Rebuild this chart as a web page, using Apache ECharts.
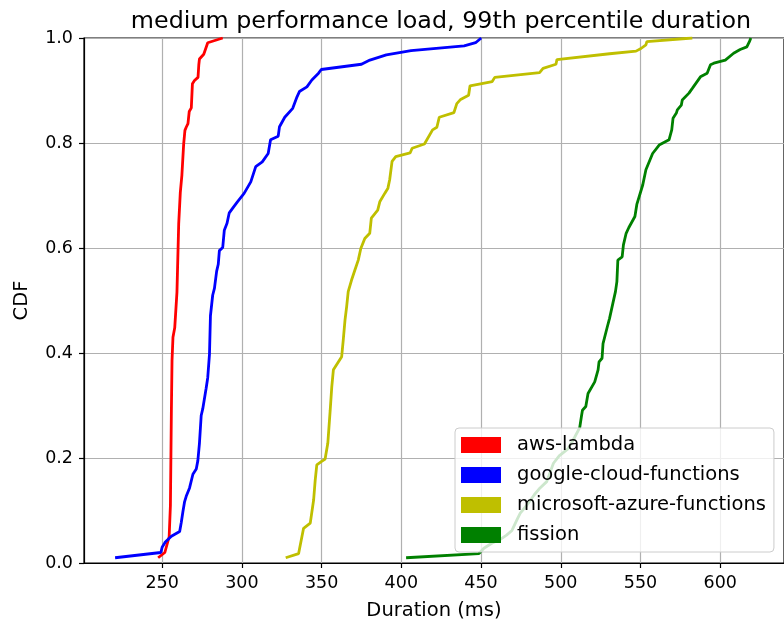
<!DOCTYPE html>
<html>
<head>
<meta charset="utf-8">
<script src="https://cdn.jsdelivr.net/npm/echarts@6/dist/echarts.min.js"></script>
<style>html,body{margin:0;padding:0;background:#fff}#chart{width:784px;height:630px}</style>
</head>
<body>
<div id="chart"></div>
<script>
const titleText = 'medium performance load, 99th percentile duration';
const seriesNames = ['aws-lambda', 'google-cloud-functions', 'microsoft-azure-functions', 'fission'];
const seriesColors = ['#ff0000', '#0000ff', '#bfbf00', '#008000'];
const xTicks = [250, 300, 350, 400, 450, 500, 550, 600];
const yTicks = [0, 0.2, 0.4, 0.6, 0.8, 1.0];

const awsLambda = [[247.5,0.01],[251.7,0.02],[254.4,0.05],[255.2,0.11],[255.8,0.29],[256.2,0.385],[256.8,0.43],[257.9,0.448],[259.3,0.516],[260.4,0.647],[261.4,0.706],[262.4,0.739],[263.5,0.798],[264.3,0.824],[265.1,0.83],[266.2,0.837],[267,0.86],[268.3,0.867],[269,0.913],[270.3,0.919],[272.5,0.925],[273,0.949],[273.4,0.96],[276.1,0.969],[278.6,0.991],[288,1.0]];
const googleCloud = [[220.5,0.01],[249.2,0.02],[250,0.03],[252,0.04],[255.8,0.051],[261,0.06],[262,0.077],[263,0.097],[264.1,0.117],[265.1,0.127],[267.2,0.143],[269.3,0.169],[271.4,0.179],[272.4,0.195],[273.4,0.228],[274.5,0.281],[275.5,0.294],[277.6,0.333],[278.6,0.353],[279.7,0.398],[280.3,0.471],[281.7,0.51],[282.8,0.523],[284.2,0.556],[285.2,0.569],[285.9,0.595],[288,0.601],[289,0.634],[290.7,0.647],[292.1,0.667],[294.5,0.677],[297.2,0.688],[301.4,0.704],[305.6,0.726],[308.7,0.755],[312.8,0.764],[316.5,0.78],[318,0.806],[322.8,0.813],[323.6,0.831],[326.9,0.849],[331.9,0.866],[334.6,0.888],[336.1,0.898],[340.8,0.907],[343.9,0.92],[348.1,0.933],[349.8,0.94],[350.1,0.942],[375,0.95],[380.3,0.958],[390.6,0.968],[406.1,0.976],[439.4,0.985],[446.6,0.991],[450.1,1.0]];
const azure = [[327.5,0.01],[335.6,0.018],[338.7,0.066],[342.9,0.076],[345,0.12],[346,0.158],[347,0.187],[349.8,0.193],[352.2,0.198],[353.9,0.228],[355.4,0.291],[356.4,0.336],[357.4,0.368],[362.6,0.393],[363.6,0.425],[364.7,0.463],[365.7,0.488],[366.7,0.517],[368.8,0.539],[370.9,0.558],[373,0.577],[374.6,0.599],[377.1,0.618],[380.2,0.628],[381.2,0.657],[385.2,0.672],[386.5,0.688],[389.6,0.704],[391.6,0.714],[392.7,0.73],[394.2,0.765],[396.5,0.774],[405.5,0.781],[406.8,0.79],[414.5,0.798],[419.6,0.825],[422.3,0.83],[423.8,0.849],[433,0.858],[434.8,0.875],[437.2,0.883],[442.2,0.891],[443.1,0.909],[457,0.917],[458.6,0.925],[486.7,0.934],[488.9,0.942],[497,0.95],[497.6,0.959],[530.6,0.97],[547.2,0.975],[550.3,0.98],[553.4,0.987],[554,0.993],[582.5,1.0]];
const fission = [[403,0.01],[448.7,0.018],[451.8,0.028],[457,0.038],[462.1,0.045],[466,0.053],[469.4,0.062],[472.5,0.082],[474.6,0.095],[478.7,0.11],[483.4,0.13],[487,0.143],[491.2,0.155],[495.4,0.19],[499,0.204],[504.7,0.218],[508.8,0.24],[511.9,0.258],[513,0.28],[513.6,0.291],[515.7,0.298],[517.1,0.323],[521.3,0.345],[523.4,0.368],[524,0.383],[525.9,0.39],[526.5,0.418],[529.2,0.45],[530.6,0.466],[532.7,0.495],[534.3,0.517],[535.2,0.536],[535.8,0.577],[538.5,0.583],[539.3,0.606],[541,0.628],[542.7,0.639],[546.5,0.66],[547.7,0.683],[551.4,0.72],[553.4,0.749],[557.6,0.78],[561.7,0.796],[567.9,0.806],[569.6,0.825],[570.4,0.847],[572.5,0.857],[573.1,0.863],[575.6,0.872],[576.2,0.882],[580.4,0.895],[582.5,0.904],[587.6,0.926],[591.8,0.933],[593.9,0.949],[596,0.952],[603.2,0.958],[608.4,0.971],[612.5,0.978],[616.7,0.983],[618.3,0.993],[619.2,1.0]];

const allData = [awsLambda, googleCloud, azure, fission];
const FONT = 'DejaVu Sans';

const chart = echarts.init(document.getElementById('chart'), null, {renderer: 'canvas'});
chart.setOption({
  animation: false,
  backgroundColor: '#ffffff',
  title: {
    text: titleText,
    left: 436,
    top: 5,
    textAlign: 'center',
    textStyle: {fontFamily: FONT, fontSize: 23.8, fontWeight: 'normal', color: '#000'}
  },
  grid: {left: 84, top: 38, right: -6, bottom: 67, show: true, borderColor: '#000', borderWidth: 1.2, backgroundColor: 'transparent'},
  legend: {
    data: seriesNames,
    orient: 'vertical',
    left: 455,
    top: 428,
    icon: 'rect',
    itemWidth: 40,
    itemHeight: 16,
    itemGap: 10,
    padding: [7, 8, 7, 6],
    backgroundColor: 'rgba(255,255,255,0.8)',
    borderColor: '#cccccc',
    borderWidth: 1,
    borderRadius: 4,
    align: 'left',
    textStyle: {fontFamily: FONT, fontSize: 19.5, color: '#000', padding: [0, 0, 0, 11]},
    z: 10
  },
  xAxis: {
    type: 'value',
    min: 201,
    max: 640,
    name: 'Duration (ms)',
    nameLocation: 'middle',
    nameGap: 38,
    nameTextStyle: {fontFamily: FONT, fontSize: 19.5, color: '#000'},
    axisLine: {show: true, onZero: false, lineStyle: {color: '#000', width: 1.2}},
    axisTick: {show: true, inside: false, length: 5, customValues: xTicks, lineStyle: {color: '#000', width: 1.2}},
    axisLabel: {show: true, customValues: xTicks, margin: 11, fontFamily: FONT, fontSize: 17.5, color: '#000'},
    splitLine: {show: true, lineStyle: {color: '#b0b0b0', width: 1.2}}
  },
  yAxis: {
    type: 'value',
    min: 0,
    max: 1,
    interval: 0.2,
    name: 'CDF',
    nameLocation: 'middle',
    nameGap: 52,
    nameRotate: 90,
    nameTextStyle: {fontFamily: FONT, fontSize: 19.5, color: '#000'},
    axisLine: {show: true, lineStyle: {color: '#000', width: 1.2}},
    axisTick: {show: true, inside: false, length: 5, lineStyle: {color: '#000', width: 1.2}},
    axisLabel: {show: true, margin: 11, fontFamily: FONT, fontSize: 17.5, color: '#000', formatter: v => v.toFixed(1)},
    splitLine: {show: true, lineStyle: {color: '#b0b0b0', width: 1.2}}
  },
  series: seriesNames.map((name, i) => ({
    name: name,
    type: 'line',
    data: allData[i],
    showSymbol: false,
    symbol: 'none',
    smooth: false,
    color: seriesColors[i],
    lineStyle: {color: seriesColors[i], width: 2.8},
    z: 2 + i
  }))
});
</script>
</body>
</html>
